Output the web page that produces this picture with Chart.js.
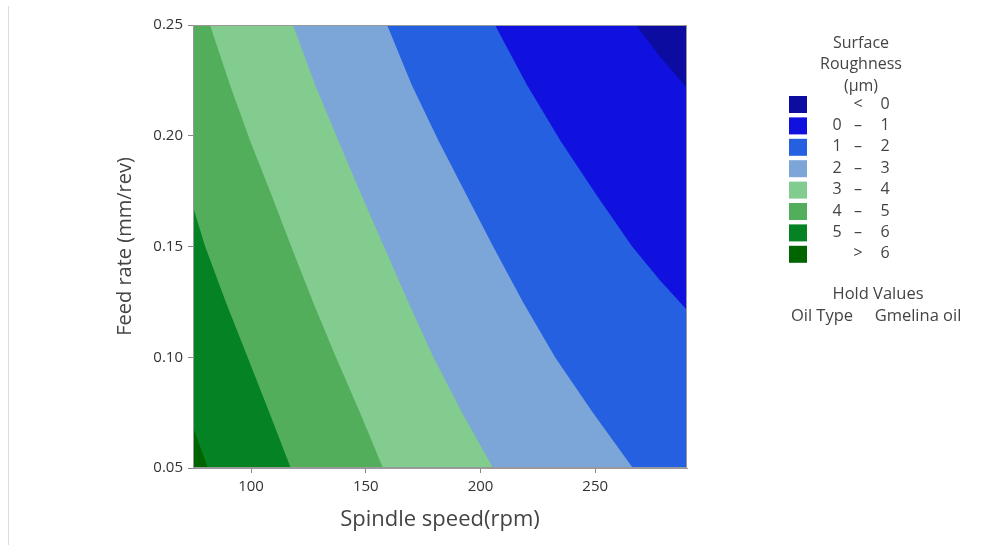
<!DOCTYPE html>
<html>
<head>
<meta charset="utf-8">
<style>
  html, body { margin: 0; padding: 0; background: #fff; }
  #wrap { width: 987px; height: 545px; position: relative; }
</style>
<script src="https://cdn.jsdelivr.net/npm/chart.js@4/dist/chart.umd.min.js"></script>
</head>
<body>
<div id="wrap"><canvas id="contour"></canvas></div>
<script>
// axis limits
const xMin = 74.7, xMax = 290;
const yMin = 0.05, yMax = 0.25;
const xTicks = [100, 150, 200, 250];
const yTicks = [0.05, 0.10, 0.15, 0.20, 0.25];

// legend levels, low -> high
const levelLabels = [['', '<', '0'], ['0', '–', '1'], ['1', '–', '2'], ['2', '–', '3'],
                     ['3', '–', '4'], ['4', '–', '5'], ['5', '–', '6'], ['', '>', '6']];
const levelColors = ['#0c0ca0', '#1010df', '#2460e0', '#7ca6d8', '#81cc8e', '#53ae5b', '#058223', '#006400'];

// contour boundaries, [speed, feed]
const c0 = [[267.8, 0.25], [278, 0.236], [290, 0.2216]];                      // <0 | 0-1
const c1 = [[206.3, 0.25], [220.2, 0.223], [234.7, 0.198], [250.7, 0.173],
            [266.1, 0.15], [278, 0.135], [290, 0.1213]];                      // 0-1 | 1-2
const c2 = [[159.3, 0.25], [170, 0.223], [181.6, 0.198], [194, 0.173], [205.5, 0.15],
            [218.5, 0.125], [232.5, 0.10], [249, 0.075], [266.4, 0.05]];      // 1-2 | 2-3
const c3 = [[118.3, 0.25], [127.9, 0.223], [138, 0.198], [148.2, 0.173], [157.9, 0.15],
            [168.5, 0.125], [179.5, 0.10], [192, 0.075], [205.5, 0.05]];      // 2-3 | 3-4
const c4 = [[82.1, 0.25], [90.8, 0.223], [99.5, 0.198], [109, 0.173], [117.5, 0.15],
            [127, 0.125], [137, 0.10], [147.5, 0.075], [157.5, 0.05]];        // 3-4 | 4-5
const c5 = [[74.7, 0.168], [80, 0.15], [89, 0.125], [98.5, 0.10], [108, 0.075], [117.3, 0.05]]; // 4-5 | 5-6
const c6 = [[74.7, 0.0685], [81.2, 0.05]];                                     // 5-6 | >6

const FONT = "'Open Sans', 'Noto Sans', sans-serif";

// each region is everything above/right of its lower boundary, painted from green to blue
function region(points, color, order) {
  let pts = points.map(p => ({x: p[0], y: p[1]}));
  const last = points[points.length - 1];
  if (last[1] === yMin && last[0] < xMax) pts.push({x: xMax, y: yMin});
  return {
    data: pts,
    showLine: true,
    fill: 'end',
    backgroundColor: color,
    borderColor: 'rgba(0,0,0,0)',
    borderWidth: 0,
    pointRadius: 0,
    tension: 0,
    order: order
  };
}

const datasets = [
  region([[xMin, yMin], [xMax, yMin]], levelColors[7], 10),
  region(c6, levelColors[6], 9),
  region(c5, levelColors[5], 8),
  region(c4, levelColors[4], 7),
  region(c3, levelColors[3], 6),
  region(c2, levelColors[2], 5),
  region(c1, levelColors[1], 4),
  region(c0, levelColors[0], 3)
];

const framePlugin = {
  id: 'frame',
  beforeDraw(chart) {
    const ctx = chart.ctx;
    ctx.save();
    ctx.strokeStyle = '#dcdcdc';
    ctx.lineWidth = 1;
    ctx.beginPath();
    ctx.moveTo(8.5, 6);
    ctx.lineTo(8.5, 545);
    ctx.stroke();
    ctx.restore();
  },
  afterDatasetsDraw(chart) {
    const {ctx, chartArea: a} = chart;
    ctx.save();
    ctx.strokeStyle = '#999';
    ctx.lineWidth = 1;
    ctx.strokeRect(a.left + 0.5, a.top + 0.5, a.right - a.left - 1, a.bottom - a.top - 1);
    ctx.restore();
  }
};

const legendPlugin = {
  id: 'contourLegend',
  afterDraw(chart) {
    const ctx = chart.ctx;
    ctx.save();
    ctx.fillStyle = '#444';
    ctx.font = '16px ' + FONT;
    ctx.textAlign = 'center';
    ctx.textBaseline = 'middle';
    ctx.fillText('Surface', 861, 43);
    ctx.fillText('Roughness', 861, 64);
    ctx.fillText('(µm)', 861, 86);

    const rowH = 21.4;
    levelLabels.forEach((lab, i) => {
      const y = 104 + i * rowH;
      ctx.fillStyle = levelColors[i];
      ctx.fillRect(789, y - 8, 18, 17);
      ctx.fillStyle = '#444';
      ctx.fillText(lab[0], 837, y);
      ctx.fillText(lab[1], 858, y);
      ctx.fillText(lab[2], 885, y);
    });

    ctx.font = '16.5px ' + FONT;
    ctx.fillText('Hold Values', 878, 294);
    ctx.fillText('Oil Type', 822, 316);
    ctx.fillText('Gmelina oil', 918, 316);
    ctx.restore();
  }
};

new Chart(document.getElementById('contour'), {
  type: 'scatter',
  data: { datasets },
  options: {
    responsive: true,
    maintainAspectRatio: false,
    animation: false,
    events: [],
    layout: { padding: { left: 109, right: 300, top: 25, bottom: 7 } },
    plugins: { legend: { display: false }, tooltip: { enabled: false } },
    scales: {
      x: {
        type: 'linear',
        min: xMin, max: xMax,
        afterBuildTicks(scale) { scale.ticks = xTicks.map(v => ({value: v})); },
        afterFit(scale) { scale.height = 70; },
        grid: { drawOnChartArea: false, drawTicks: true, tickLength: 5, color: '#888' },
        border: { display: true, color: '#999' },
        ticks: { color: '#333', font: { family: FONT, size: 15 }, padding: 5, maxRotation: 0 },
        title: { display: true, text: 'Spindle speed(rpm)', color: '#444',
                 font: { family: FONT, size: 22 }, padding: { top: 4, bottom: 5 } }
      },
      y: {
        type: 'linear',
        min: yMin, max: yMax,
        afterBuildTicks(scale) { scale.ticks = yTicks.map(v => ({value: v})); },
        afterFit(scale) { scale.width = 84; },
        grid: { drawOnChartArea: false, drawTicks: true, tickLength: 5, color: '#888' },
        border: { display: true, color: '#999' },
        ticks: { color: '#333', font: { family: FONT, size: 15 }, padding: 5,
                 callback: v => v.toFixed(2) },
        title: { display: true, text: 'Feed rate (mm/rev)', color: '#444',
                 font: { family: FONT, size: 20 }, padding: { top: 4, bottom: 4 } }
      }
    }
  },
  plugins: [framePlugin, legendPlugin]
});
</script>
</body>
</html>
